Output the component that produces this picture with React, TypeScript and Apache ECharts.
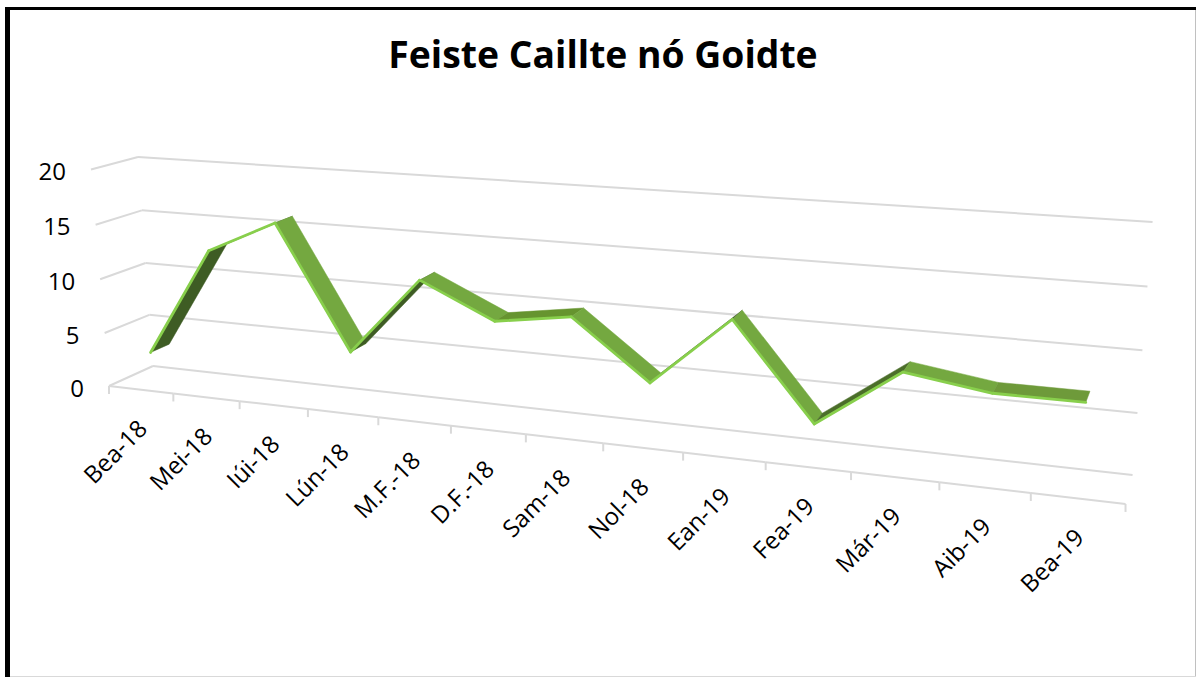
import React, { useEffect, useRef } from "react";
import * as echarts from "echarts";

const titleText = "Feiste Caillte nó Goidte";
const categories = ["Bea-18", "Mei-18", "Iúi-18", "Lún-18", "M.F.-18", "D.F.-18", "Sam-18", "Nol-18", "Ean-19", "Fea-19", "Már-19", "Aib-19", "Bea-19"];
const values = [3, 13, 16, 5, 12, 9, 10, 5, 11, 3, 8, 7, 7];
const yTicks = [0, 5, 10, 15, 20];

const GRID = { left: 109, top: 170, width: 1016, height: 216 };
const FONT = "'Open Sans', sans-serif";
const GRID_COLOR = "#d9d9d9";
const RIBBON_FRONT_Z = 0.72;
const RIBBON_BACK_Z = 0.29;

type Pt = [number, number];
const lerp = (a: Pt, b: Pt, t: number): Pt => [a[0] + (b[0] - a[0]) * t, a[1] + (b[1] - a[1]) * t];

// Perspective box the hidden cartesian axes are projected on to.
const frontBottom: [Pt, Pt] = [[109, 386], [1126, 504]];
const frontTop: [Pt, Pt] = [[91, 169.5], [1143, 244]];
const backBottom: [Pt, Pt] = [[153, 366], [1133, 475]];
const backTop: [Pt, Pt] = [[138, 157], [1153, 222]];

const warpU = (u: number) => ((109 + 803 * u) / (1 - 0.189 * u) - 109) / 1016;
const warpV = (v: number) => (v * (1 - 0.028)) / (1 - 0.028 * v);

function project(u: number, v: number, z: number): Pt {
  const t = warpU(u);
  const g = warpV(v);
  const front = lerp(lerp(frontBottom[0], frontBottom[1], t), lerp(frontTop[0], frontTop[1], t), g);
  const back = lerp(lerp(backBottom[0], backBottom[1], t), lerp(backTop[0], backTop[1], t), g);
  return lerp(back, front, z);
}

const toUV = (p: number[]): [number, number] => [
  (p[0] - GRID.left) / GRID.width,
  (GRID.top + GRID.height - p[1]) / GRID.height,
];

function faceColor(delta: number): string {
  if (delta >= 6) return "#3e5c24";
  if (delta >= 3) return "#4b6e2a";
  if (delta >= 1) return "#66942f";
  if (delta === 0) return "#6e9a3a";
  return "#74a840";
}

const line = (a: Pt, b: Pt, stroke = GRID_COLOR, lineWidth = 2) => ({
  type: "line",
  shape: { x1: a[0], y1: a[1], x2: b[0], y2: b[1] },
  style: { stroke, lineWidth },
});

export default function App() {
  const ref = useRef<HTMLDivElement>(null);
  useEffect(() => {
    const chart = echarts.init(ref.current!, undefined, { renderer: "svg" });
    chart.setOption({
      animation: false,
      backgroundColor: "#ffffff",
      title: {
        text: titleText,
        left: 598,
        top: 30,
        textAlign: "center",
        textStyle: { fontFamily: FONT, fontWeight: "bold", fontSize: 37.3, color: "#000000" },
      },
      grid: { left: GRID.left, top: GRID.top, width: GRID.width, height: GRID.height },
      xAxis: { type: "category", data: categories, show: false, boundaryGap: true },
      yAxis: { type: "value", min: 0, max: 20, interval: 5, show: false },
      graphic: [
        { type: "rect", silent: true, shape: { x: 1195, y: 10, width: 1, height: 667 }, style: { fill: "#c0c0c0" } },
        { type: "rect", silent: true, shape: { x: 10, y: 676, width: 1186, height: 1 }, style: { fill: "#d9d9d9" } },
        { type: "rect", silent: true, shape: { x: 5, y: 7, width: 1191, height: 3 }, style: { fill: "#000000" } },
        { type: "rect", silent: true, shape: { x: 5, y: 7, width: 5, height: 670 }, style: { fill: "#000000" } },
      ],
      series: [
        {
          // walls: gridlines and value labels
          type: "custom",
          silent: true,
          clip: false,
          z: 1,
          data: yTicks.map((t) => [0, t]),
          renderItem: (_p: any, api: any) => {
            const tick = api.value(1);
            const [, v] = toUV(api.coord([0, tick]));
            const a = project(0, v, 1);
            const b = project(0, v, 0);
            const c = project(1, v, 0);
            return {
              type: "group",
              children: [
                line(a, b),
                line(b, c),
                {
                  type: "text",
                  x: a[0] - 25,
                  y: a[1] + 1,
                  style: { text: String(tick), align: "right", verticalAlign: "middle", fontFamily: FONT, fontSize: 24, fill: "#000000" },
                },
              ],
            };
          },
        },
        {
          // floor front edge, tick marks and category labels
          type: "custom",
          silent: true,
          clip: false,
          z: 2,
          data: categories.map((_c, i) => [i, 0]),
          renderItem: (params: any, api: any) => {
            const i = params.dataIndex;
            const [u] = toUV(api.coord([i, 0]));
            const step = 1 / categories.length;
            const s = project(u - step / 2, 0, 1);
            const e = project(u + step / 2, 0, 1);
            const m = project(u, 0, 1);
            const children: any[] = [line(s, e), line(s, [s[0], s[1] + 8])];
            if (i === categories.length - 1) children.push(line(e, [e[0], e[1] + 8]));
            children.push({
              type: "text",
              x: m[0] + 1,
              y: m[1] + 34,
              rotation: Math.PI / 4,
              style: { text: categories[i], align: "right", verticalAlign: "middle", fontFamily: FONT, fontSize: 24, fill: "#000000" },
            });
            return { type: "group", children };
          },
        },
        {
          // ribbon
          type: "custom",
          silent: true,
          clip: false,
          z: 3,
          data: values.map((v, i) => [i, v]),
          renderItem: (params: any, api: any) => {
            const i = params.dataIndex;
            if (i >= values.length - 1) return { type: "group", children: [] };
            const [u0, v0] = toUV(api.coord([i, values[i]]));
            const [u1, v1] = toUV(api.coord([i + 1, values[i + 1]]));
            const f0 = project(u0, v0, RIBBON_FRONT_Z);
            const f1 = project(u1, v1, RIBBON_FRONT_Z);
            const b0 = project(u0, v0, RIBBON_BACK_Z);
            const b1 = project(u1, v1, RIBBON_BACK_Z);
            const fill = faceColor(values[i + 1] - values[i]);
            return {
              type: "group",
              children: [
                { type: "polygon", shape: { points: [f0, f1, b1, b0] }, style: { fill, stroke: fill, lineWidth: 0.5 } },
                { type: "line", shape: { x1: f0[0], y1: f0[1], x2: f1[0], y2: f1[1] }, style: { stroke: "#88cf4c", lineWidth: 2.8, lineCap: "round" } },
              ],
            };
          },
        },
      ],
    });
    return () => chart.dispose();
  }, []);
  return <div ref={ref} style={{ position: "absolute", left: 0, top: 0, width: 1196, height: 677 }} />;
}
